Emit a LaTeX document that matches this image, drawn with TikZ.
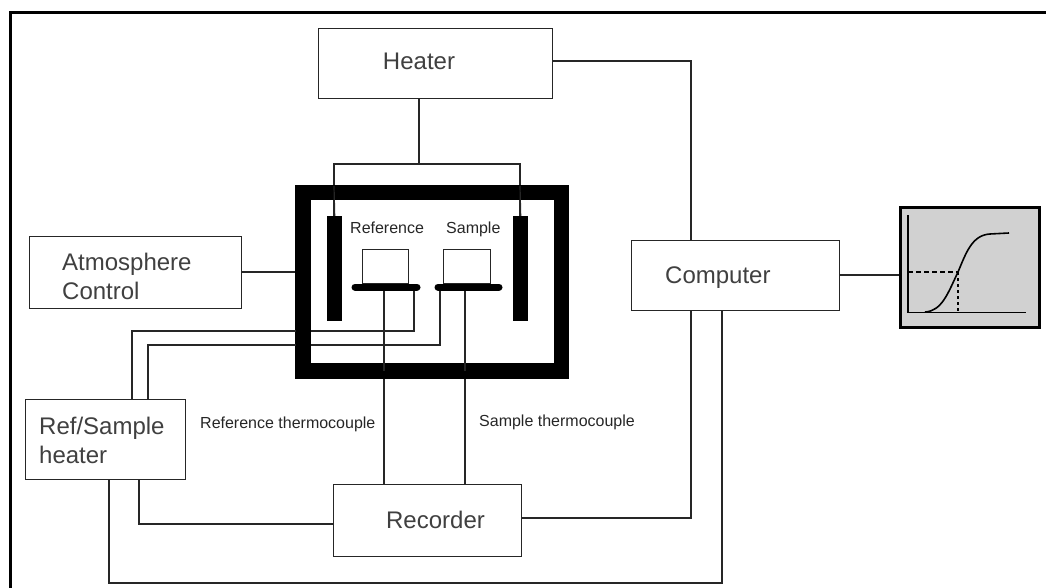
\documentclass[tikz,border=0pt]{standalone}
\usepackage{fontspec}
\setmainfont{Liberation Sans}
\tikzset{
  wire/.style={draw=black!85,line width=1.2pt},
  boxn/.style={draw=black!85,line width=1.2pt,fill=white,rectangle,inner sep=0pt,anchor=north west},
  lab/.style={inner sep=0pt,anchor=west,text=black!75,font=\fontsize{24}{29}\selectfont,align=left},
  smalllab/.style={inner sep=0pt,anchor=west,text=black!85,font=\fontsize{16}{18}\selectfont},
  solidbar/.style={fill=black,draw=none,rectangle,inner sep=0pt,anchor=north west},
}
\begin{document}
\begin{tikzpicture}[x=1pt,y=-1pt]
\useasboundingbox (0,0) rectangle (1046,588);
\draw[line width=3pt] (10,590) -- (10,13) -- (1048,13);
\node[boxn,minimum width=234pt,minimum height=70pt] (heater) at (318,28) {};
\node[lab,anchor=center] at (419,61) {Heater};
\node[boxn,minimum width=212pt,minimum height=72pt] (atm) at (29,236) {};
\node[lab,anchor=west] (atml) at (62,276) {Atmosphere\\Control};
\node[boxn,minimum width=208pt,minimum height=70pt] (comp) at (631,240) {};
\node[lab] at (665,278) {Computer};
\node[boxn,minimum width=160pt,minimum height=80pt] (rsh) at (25,399) {};
\node[lab,anchor=west] at (39,440) {Ref/Sample\\heater};
\node[boxn,minimum width=188pt,minimum height=72pt] (rec) at (333,484) {};
\node[lab,anchor=center] at (435.5,520) {Recorder};
\coordinate (hT) at (419,98);
\coordinate (hJ) at (419,164);
\coordinate (hL) at (334,164);
\coordinate (hR) at (520,164);
\coordinate (lbar) at (334,216);
\coordinate (rbar) at (520,216);
\draw[wire] (heater.south -| hT) -- (hJ);
\draw[wire] (lbar) -- (hL) -- (hR) -- (rbar);
\draw[wire] (552,61) -- (691,61) -- (691,240);
\draw[wire] (241,272) -- (296,272);
\draw[wire] (839,275) -- (899,275);
\draw[wire] (414,290) -- (414,331) -- (132,331) -- (132,399);
\draw[wire] (440,290) -- (440,345) -- (148,345) -- (148,399);
\draw[wire] (139,479) -- (139,524) -- (333,524);
\draw[wire] (109,479) -- (109,583) -- (722,583) -- (722,310);
\draw[wire] (521,518) -- (691,518) -- (691,310);
\draw[wire] (384,290) -- (384,484);
\draw[wire] (465,290) -- (465,484);
\draw[black,line width=15.5pt] (303,192.5) rectangle (561.5,371);
\node[solidbar,minimum width=15pt,minimum height=105pt] (lh) at (327,216) {};
\node[solidbar,minimum width=15pt,minimum height=105pt] (rh) at (513,216) {};
\draw[wire] (334,186) -- (lh.north);
\draw[wire] (520,186) -- (rh.north);
\draw[wire] (384,290) -- (384,371);
\draw[wire] (465,290) -- (465,371);
\draw[wire] (132,331) -- (296,331);
\draw[wire] (148,345) -- (296,345);
\node[boxn,minimum width=46pt,minimum height=34pt] (rc) at (362,249) {};
\node[boxn,minimum width=47pt,minimum height=34pt] (sc) at (443,249) {};
\draw[black,line width=7pt,line cap=round] (355,287) -- (417,287);
\draw[black,line width=7pt,line cap=round] (438,287) -- (499,287);
\node[smalllab] at (350,228) {Reference};
\node[smalllab] at (446,229) {Sample};
\node[smalllab] at (200,424) {Reference thermocouple};
\node[smalllab] at (479,422) {Sample thermocouple};
\node[draw=black,line width=2.5pt,fill=black!18,rectangle,inner sep=0pt,minimum width=139pt,minimum height=120pt,anchor=north west] (plot) at (899,206) {};
\draw[black,line width=1.2pt] (908,215) -- (908,312.5) -- (1026,312.5);
\draw[black,line width=1.3pt,dash pattern=on 5pt off 3pt] (908,272) -- (958,272);
\draw[black,line width=1.2pt,dash pattern=on 3pt off 3pt] (958,272) -- (958,311);
\draw[black,line width=1.6pt] (925,312) .. controls (942,311) and (948,293) .. (958,272) .. controls (966,253) and (972,235) .. (990,234) -- (1009,233);
\end{tikzpicture}
\end{document}
